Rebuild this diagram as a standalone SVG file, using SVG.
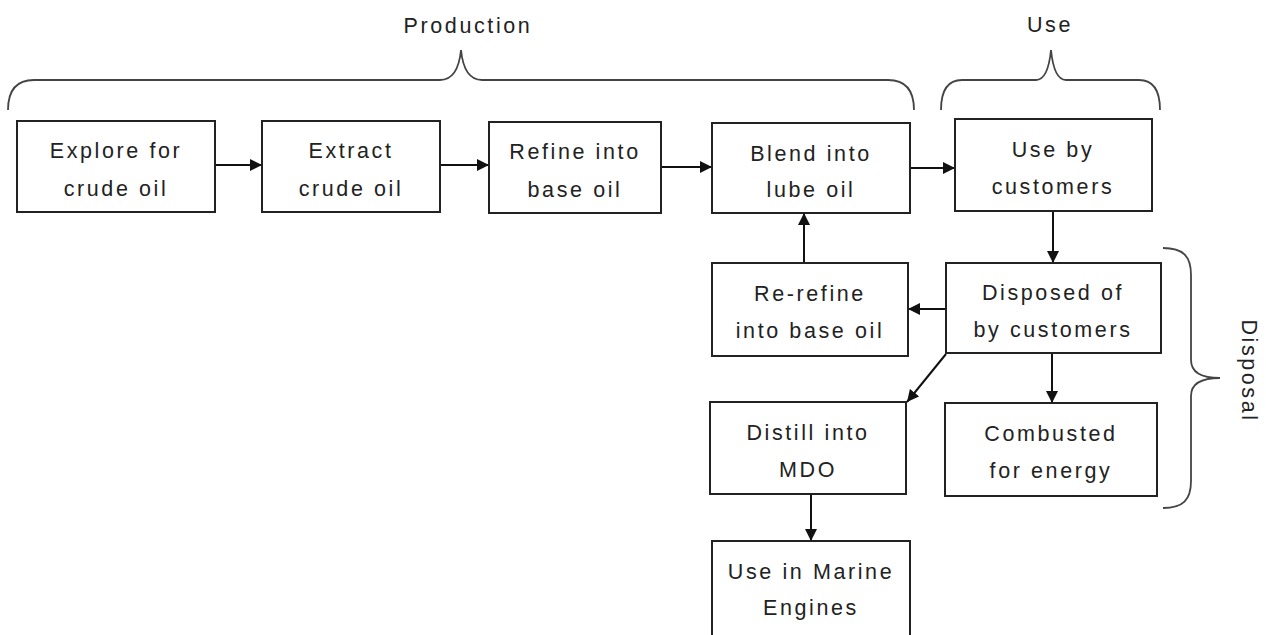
<svg xmlns="http://www.w3.org/2000/svg" width="1266" height="635" viewBox="0 0 1266 635">
<defs>
<style>
.box{fill:#fff;stroke:#222;stroke-width:2}
.t{font-family:"Liberation Sans",Arial,sans-serif;font-size:21.5px;fill:#222;text-anchor:middle;letter-spacing:2.6px}
.c{fill:none;stroke:#111;stroke-width:2}
.br{fill:none;stroke:#444;stroke-width:1.8}
</style>
<marker id="ah" viewBox="0 0 10 10" refX="10" refY="5" markerWidth="12" markerHeight="12" markerUnits="userSpaceOnUse" orient="auto">
<path d="M0,0 L10,5 L0,10 z" fill="#111"/>
</marker>
</defs>
<rect width="1266" height="635" fill="#fff"/>

<g id="braces">
<path class="br" d="M8 110 C8 90 16 80 34 80 L440 80 C452 80 459 70 461 50 C463 70 470 80 482 80 L888 80 C906 80 914 90 914 110"/>
<path class="br" d="M941 110 C941 90 948 80 962 80 L1036 80 C1044 80 1049 70 1051 50 C1053 70 1058 80 1066 80 L1139 80 C1153 80 1160 90 1160 110"/>
<path class="br" d="M1163 248 C1183 248 1191 256 1191 275 L1191 360 C1191 372 1200 378 1220 378 C1200 378 1191 384 1191 396 L1191 481 C1191 500 1183 508 1163 508"/>
<text class="t" x="468" y="33">Production</text>
<text class="t" x="1050" y="32">Use</text>
<text class="t" transform="translate(1242,371) rotate(90)">Disposal</text>
</g>

<g id="connectors">
<line class="c" x1="215" y1="165" x2="262" y2="165" marker-end="url(#ah)"/>
<line class="c" x1="440" y1="165" x2="489" y2="165" marker-end="url(#ah)"/>
<line class="c" x1="661" y1="167" x2="712" y2="167" marker-end="url(#ah)"/>
<line class="c" x1="910" y1="168" x2="955" y2="168" marker-end="url(#ah)"/>
<line class="c" x1="804" y1="263" x2="804" y2="213" marker-end="url(#ah)"/>
<line class="c" x1="1053" y1="211" x2="1053" y2="263" marker-end="url(#ah)"/>
<line class="c" x1="946" y1="309" x2="908" y2="309" marker-end="url(#ah)"/>
<line class="c" x1="946" y1="354" x2="907" y2="402" marker-end="url(#ah)"/>
<line class="c" x1="1052" y1="353" x2="1052" y2="403" marker-end="url(#ah)"/>
<line class="c" x1="811" y1="494" x2="811" y2="541" marker-end="url(#ah)"/>
</g>

<g id="explore">
<rect class="box" x="17" y="121" width="198" height="91"/>
<text class="t" x="116" y="158">Explore for</text>
<text class="t" x="116" y="196">crude oil</text>
</g>
<g id="extract">
<rect class="box" x="262" y="121" width="178" height="91"/>
<text class="t" x="351" y="158">Extract</text>
<text class="t" x="351" y="196">crude oil</text>
</g>
<g id="refine">
<rect class="box" x="489" y="122" width="172" height="91"/>
<text class="t" x="575" y="159">Refine into</text>
<text class="t" x="575" y="197">base oil</text>
</g>
<g id="blend">
<rect class="box" x="712" y="123" width="198" height="90"/>
<text class="t" x="811" y="161">Blend into</text>
<text class="t" x="811" y="197">lube oil</text>
</g>
<g id="use">
<rect class="box" x="955" y="119" width="197" height="92"/>
<text class="t" x="1053" y="157">Use by</text>
<text class="t" x="1053" y="194">customers</text>
</g>
<g id="rerefine">
<rect class="box" x="712" y="263" width="196" height="93"/>
<text class="t" x="810" y="301">Re-refine</text>
<text class="t" x="810" y="338">into base oil</text>
</g>
<g id="disposed">
<rect class="box" x="946" y="263" width="215" height="90"/>
<text class="t" x="1053" y="300">Disposed of</text>
<text class="t" x="1053" y="337">by customers</text>
</g>
<g id="distill">
<rect class="box" x="710" y="402" width="196" height="92"/>
<text class="t" x="808" y="440">Distill into</text>
<text class="t" x="808" y="477">MDO</text>
</g>
<g id="combusted">
<rect class="box" x="945" y="403" width="212" height="93"/>
<text class="t" x="1051" y="441">Combusted</text>
<text class="t" x="1051" y="478">for energy</text>
</g>
<g id="marine">
<rect class="box" x="712" y="541" width="198" height="110"/>
<text class="t" x="811" y="579">Use in Marine</text>
<text class="t" x="811" y="615">Engines</text>
</g>
</svg>
